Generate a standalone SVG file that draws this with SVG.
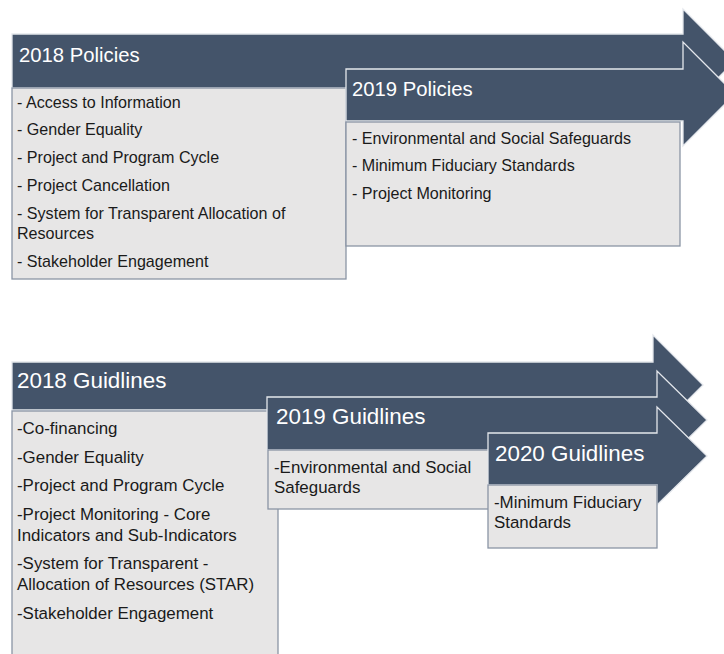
<svg xmlns="http://www.w3.org/2000/svg" width="724" height="654" viewBox="0 0 724 654">
<style>
.arrow{fill:#44546A;stroke:#E4E7EC;stroke-width:1.3;stroke-linejoin:miter}
.box{fill:#E7E6E6;stroke:#8A95A5;stroke-width:1.3}
.head{font-family:"Liberation Sans",Arial,sans-serif;fill:#FFFFFF}
.item{font-family:"Liberation Sans",Arial,sans-serif;fill:#1A1A1A}
.hp{font-size:20.3px}
.hg{font-size:22.4px}
.ip{font-size:16.1px}
.ig{font-size:16.9px}
</style>
<rect width="724" height="654" fill="#FFFFFF"/>
<g id="policies-2018">
<path class="arrow" d="M12,34 H683 V9 L735,61 L683,113 V88 H12 Z"/>
<text class="head hp" x="19" y="62">2018 Policies</text>
</g>
<g id="policies-2018-list">
<rect class="box" x="12" y="88" width="334" height="191"/>
<text class="item ip" x="17" y="108">- Access to Information</text>
<text class="item ip" x="17" y="135">- Gender Equality</text>
<text class="item ip" x="17" y="163">- Project and Program Cycle</text>
<text class="item ip" x="17" y="191">- Project Cancellation</text>
<text class="item ip" x="17" y="219">- System for Transparent Allocation of</text>
<text class="item ip" x="17" y="239">Resources</text>
<text class="item ip" x="17" y="267">- Stakeholder Engagement</text>
</g>
<g id="policies-2019">
<path class="arrow" d="M346,69 H683 V42 L735,94 L683,146 V121 H346 Z"/>
<text class="head hp" x="352" y="96">2019 Policies</text>
</g>
<g id="policies-2019-list">
<rect class="box" x="346" y="122" width="334" height="124"/>
<text class="item ip" x="352" y="144">- Environmental and Social Safeguards</text>
<text class="item ip" x="352" y="171">- Minimum Fiduciary Standards</text>
<text class="item ip" x="352" y="199">- Project Monitoring</text>
</g>
<g id="guidelines-2018">
<path class="arrow" d="M12,362 H653 V335 L703,385 L653,435 V410 H12 Z"/>
<text class="head hg" x="17" y="388">2018 Guidlines</text>
</g>
<g id="guidelines-2018-list">
<rect class="box" x="12" y="411" width="266" height="250"/>
<text class="item ig" x="17" y="434">-Co-financing</text>
<text class="item ig" x="17" y="463">-Gender Equality</text>
<text class="item ig" x="17" y="491">-Project and Program Cycle</text>
<text class="item ig" x="17" y="520">-Project Monitoring - Core</text>
<text class="item ig" x="17" y="541">Indicators and Sub-Indicators</text>
<text class="item ig" x="17" y="569">-System for Transparent -</text>
<text class="item ig" x="17" y="590">Allocation of Resources (STAR)</text>
<text class="item ig" x="17" y="619">-Stakeholder Engagement</text>
</g>
<g id="guidelines-2019">
<path class="arrow" d="M267,397 H657 V371 L707,420 L657,469 V450 H267 Z"/>
<text class="head hg" x="276" y="424">2019 Guidlines</text>
</g>
<g id="guidelines-2019-list">
<rect class="box" x="268" y="450" width="222" height="59"/>
<text class="item ig" x="274" y="473">-Environmental and Social</text>
<text class="item ig" x="274" y="493">Safeguards</text>
</g>
<g id="guidelines-2020">
<path class="arrow" d="M488,433 H657 V407 L707,456 L657,505 V485 H488 Z"/>
<text class="head hg" x="495" y="461">2020 Guidlines</text>
</g>
<g id="guidelines-2020-list">
<rect class="box" x="488" y="485" width="169" height="63"/>
<text class="item ig" x="494" y="508">-Minimum Fiduciary</text>
<text class="item ig" x="494" y="528">Standards</text>
</g>
</svg>
